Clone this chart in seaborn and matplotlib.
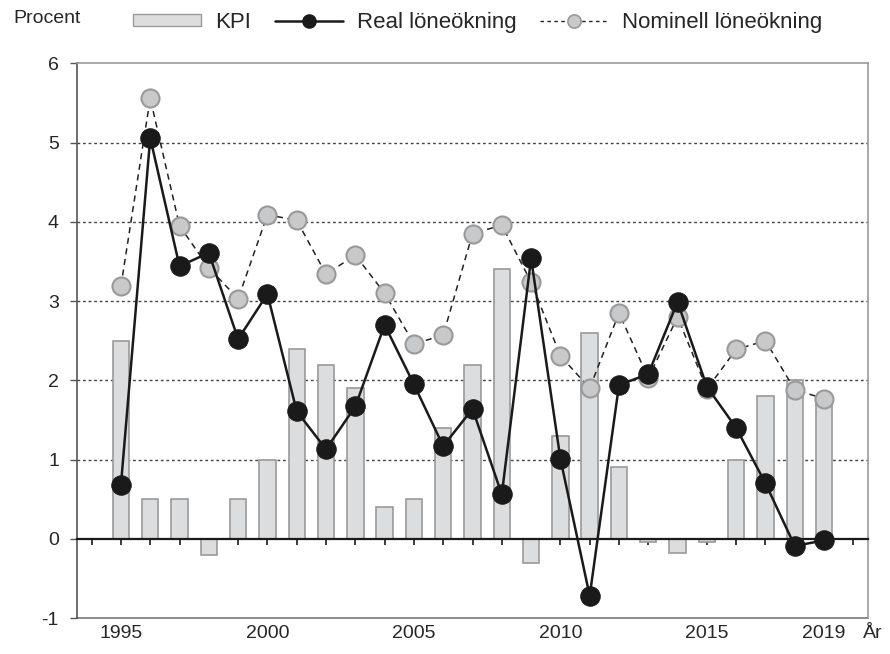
import numpy as np
import pandas as pd
import seaborn as sns
import matplotlib.pyplot as plt
from matplotlib.lines import Line2D
from matplotlib.patches import Patch

# data
years = list(range(1995, 2020))
kpi = [2.5, 0.5, 0.5, -0.2, 0.5, 1.0, 2.4, 2.2, 1.9, 0.4, 0.5, 1.4, 2.2,
       3.4, -0.3, 1.3, 2.6, 0.9, -0.04, -0.18, -0.04, 1.0, 1.8, 2.0, 1.8]
real = [0.68, 5.06, 3.44, 3.61, 2.52, 3.09, 1.61, 1.13, 1.67, 2.70, 1.95,
        1.17, 1.64, 0.56, 3.54, 1.01, -0.72, 1.94, 2.08, 2.99, 1.92, 1.40,
        0.70, -0.09, -0.02]
nominal = [3.19, 5.56, 3.95, 3.42, 3.03, 4.09, 4.02, 3.34, 3.58, 3.10, 2.46,
           2.57, 3.85, 3.96, 3.24, 2.31, 1.90, 2.85, 2.03, 2.80, 1.89, 2.39,
           2.50, 1.88, 1.77]
year_labels = [1995, 2000, 2005, 2010, 2015, 2019]

df = pd.DataFrame({'År': years, 'KPI': kpi, 'Real': real, 'Nominell': nominal})

sns.set_style('white')
plt.rcParams['font.family'] = ['Liberation Sans', 'DejaVu Sans']
plt.rcParams['axes.unicode_minus'] = False

fig = plt.figure(figsize=(8.9, 6.54), dpi=100)
ax = fig.add_axes([0.0865, 0.055, 0.8888, 0.848])

# KPI bars
sns.barplot(data=df, x='År', y='KPI', native_scale=True, width=0.56,
            color='#dcdddf', edgecolor='#9a9a9a', linewidth=1.2,
            saturation=1, ax=ax, zorder=2)

# nominal wages
sns.lineplot(data=df, x='År', y='Nominell', ax=ax, color='#222222',
             linewidth=1.1, linestyle=(0, (4, 3)), marker='o',
             markersize=13, markerfacecolor='#c8c9cb',
             markeredgecolor='#999999', markeredgewidth=1.5, zorder=3)

# real wages
sns.lineplot(data=df, x='År', y='Real', ax=ax, color='#1a1a1a',
             linewidth=1.8, marker='o', markersize=14,
             markerfacecolor='#1a1a1a', markeredgecolor='#1a1a1a', zorder=4)

ax.set_xlim(1993.5, 2020.5)
ax.set_ylim(-1, 6)
ax.set_xlabel('')
ax.set_ylabel('')

# gridlines
for v in range(1, 6):
    ax.axhline(v, color='#444444', linestyle=(0, (2, 2)), linewidth=1.0, zorder=1)

# spines
for s in ['top', 'right']:
    ax.spines[s].set_color('#9a9a9a')
    ax.spines[s].set_linewidth(1.2)
ax.spines['left'].set_color('#555555')
ax.spines['left'].set_linewidth(1.2)
ax.spines['bottom'].set_position(('data', 0))
ax.spines['bottom'].set_color('#1a1a1a')
ax.spines['bottom'].set_linewidth(1.6)
ax.spines['bottom'].set_zorder(5)

# year ticks on the zero line
ax.set_xticks(range(1994, 2021))
ax.tick_params(axis='x', which='major', direction='out', length=4, width=1.2,
               color='#1a1a1a', labelbottom=False, bottom=True)
ax.set_yticks(range(-1, 7))
ax.tick_params(axis='y', left=True, direction='out', length=5, width=1.0,
               color='#555555', labelsize=14, pad=8)

# labelled year axis at the bottom
sec = ax.secondary_xaxis(0.0)
sec.set_xticks(year_labels)
sec.tick_params(length=0, labelsize=14, pad=5)
sec.spines['bottom'].set_linestyle((0, (1, 1)))
sec.spines['bottom'].set_color('#777777')
sec.spines['bottom'].set_linewidth(1.2)

ax.annotate('År', xy=(1.0, 0), xycoords='axes fraction', xytext=(-5, -20),
            textcoords='offset pixels', fontsize=14, ha='left', va='baseline')

# legend
handles = [
    Patch(facecolor='#dcdddf', edgecolor='#9a9a9a', linewidth=1.0),
    Line2D([], [], color='#1a1a1a', linewidth=1.8, marker='o', markersize=9.5,
           markerfacecolor='#1a1a1a'),
    Line2D([], [], color='#222222', linewidth=1.0, linestyle=(0, (2.5, 2.5)),
           marker='o', markersize=9.5, markerfacecolor='#c8c9cb',
           markeredgecolor='#999999', markeredgewidth=1.2),
]
fig.legend(handles, ['KPI', 'Real löneökning', 'Nominell löneökning'],
           loc='center left', bbox_to_anchor=(0.1494, 0.966), ncol=3,
           frameon=False, fontsize=16, handlelength=3.06, handleheight=0.45,
           columnspacing=1.08, handletextpad=0.63, borderpad=0,
           borderaxespad=0)
fig.text(0.0146, 0.971, 'Procent', fontsize=14, ha='left', va='center')

fig.savefig('out.png', dpi=100)
